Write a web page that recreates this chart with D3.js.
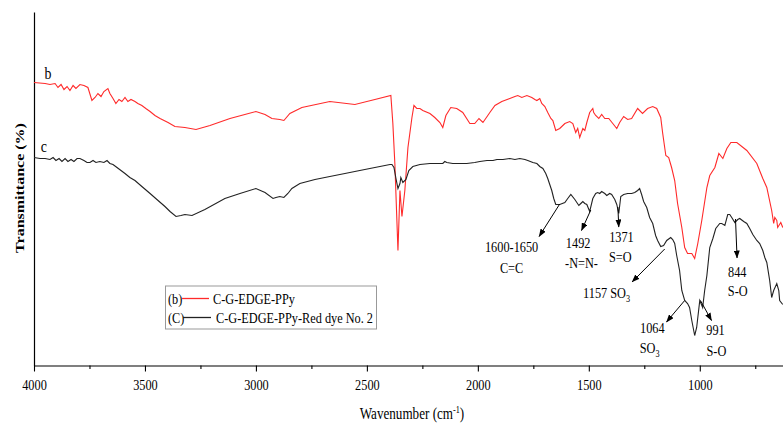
<!DOCTYPE html>
<html>
<head>
<meta charset="utf-8">
<script src="https://cdn.jsdelivr.net/npm/d3@7"></script>
<style>
  body { margin: 0; background: #fff; }
  #chart { width: 783px; height: 423px; }
  text { font-family: "Liberation Serif", "Times New Roman", serif; fill: #000; }
</style>
</head>
<body>
<div id="chart"></div>
<script>
// FTIR spectra, values
// [wavenumber (cm-1), transmittance (arbitrary %)]
const seriesB = [
  [4000,56.6],[3950,56.4],[3928,56.2],[3905,56.4],[3892,55.6],[3878,56.2],[3865,55.2],[3851,55.8],
  [3838,55.0],[3824,56.0],[3811,55.4],[3793,56.2],[3775,56.0],[3757,55.6],[3739,53.0],[3725,53.6],
  [3712,54.4],[3698,53.8],[3685,54.8],[3667,55.4],[3658,54.4],[3644,53.4],[3631,52.4],[3617,53.2],
  [3604,52.8],[3590,53.6],[3577,52.8],[3563,53.2],[3545,52.8],[3532,52.4],[3514,52.0],[3496,51.4],
  [3477,50.8],[3455,50.0],[3432,49.4],[3396,48.6],[3365,47.8],[3320,47.6],[3270,47.2],[3207,48.0],
  [3117,49.4],[3050,50.2],[3000,50.8],[2959,50.2],[2928,49.4],[2892,49.2],[2874,49.0],[2847,50.4],
  [2793,51.6],[2667,52.8],[2554,52.2],[2464,53.2],[2392,54.0],[2383,48.4],[2374,40.4],[2360,23.0],
  [2351,35.0],[2342,29.8],[2329,35.0],[2315,43.6],[2297,49.6],[2288,52.0],[2275,51.4],[2261,51.4],
  [2248,51.0],[2216,50.4],[2194,49.6],[2171,48.6],[2158,47.6],[2144,50.0],[2122,51.6],[2095,51.4],
  [2068,50.6],[2036,48.4],[2014,48.4],[1995,49.4],[1977,48.6],[1946,50.6],[1923,52.0],[1892,52.8],
  [1856,53.4],[1833,53.8],[1820,54.0],[1802,53.6],[1779,54.0],[1757,53.6],[1743,53.2],[1734,53.0],
  [1721,53.4],[1712,52.4],[1698,51.8],[1685,50.6],[1671,49.4],[1662,49.0],[1649,47.0],[1631,47.4],
  [1608,48.4],[1586,48.8],[1572,48.4],[1559,46.6],[1550,47.4],[1541,45.6],[1527,47.4],[1518,47.0],
  [1509,48.6],[1496,50.6],[1482,51.4],[1478,50.6],[1469,50.0],[1455,49.4],[1442,50.2],[1428,49.4],
  [1410,49.4],[1392,48.4],[1374,47.4],[1361,48.6],[1343,49.8],[1325,49.2],[1307,49.4],[1280,51.4],
  [1258,50.4],[1235,51.4],[1212,51.8],[1194,51.4],[1176,49.6],[1167,46.4],[1153,42.0],[1140,41.6],
  [1127,39.6],[1113,37.0],[1100,32.4],[1081,27.6],[1068,23.6],[1055,22.4],[1036,22.4],[1023,21.4],
  [1009,24.4],[991,29.0],[968,35.6],[955,38.0],[932,39.6],[914,42.4],[896,41.4],[878,43.4],
  [860,44.6],[833,44.6],[788,43.0],[743,40.4],[716,37.4],[698,35.6],[676,31.0],[667,28.4],
  [662,29.6],[653,29.0],[649,27.6],[635,28.6],[626,27.6]
];

const seriesC = [
  [4000,41.6],[3973,41.4],[3950,41.4],[3928,41.2],[3914,41.6],[3901,41.0],[3887,41.4],[3874,40.8],
  [3860,41.4],[3847,40.8],[3833,41.2],[3820,40.8],[3806,41.4],[3793,41.4],[3775,41.0],[3761,40.6],
  [3748,40.6],[3734,41.0],[3721,40.6],[3703,40.8],[3685,40.6],[3671,41.0],[3658,40.4],[3644,40.2],
  [3626,39.6],[3608,39.0],[3590,38.4],[3568,37.6],[3545,37.0],[3514,35.8],[3477,34.4],[3441,33.0],
  [3410,31.8],[3387,30.8],[3360,29.8],[3338,30.0],[3320,30.2],[3288,30.0],[3230,31.2],[3140,33.4],
  [3072,34.4],[3000,35.4],[2959,34.6],[2923,33.4],[2910,33.6],[2892,33.8],[2874,33.6],[2856,34.4],
  [2838,35.4],[2802,36.4],[2734,37.2],[2667,37.8],[2599,38.4],[2532,39.0],[2464,39.6],[2396,40.2],
  [2387,40.2],[2378,39.6],[2369,37.4],[2360,35.4],[2351,36.4],[2347,37.6],[2338,36.6],[2324,37.2],
  [2311,39.0],[2293,39.8],[2261,40.2],[2216,40.4],[2158,40.4],[2149,40.8],[2140,40.6],[2113,40.4],
  [2050,40.4],[2014,40.6],[1991,40.8],[1959,41.0],[1932,41.0],[1914,41.2],[1887,41.2],[1856,41.4],
  [1833,41.2],[1811,41.4],[1788,41.2],[1775,41.0],[1752,40.6],[1734,40.4],[1721,39.8],[1707,39.4],
  [1694,38.4],[1685,37.4],[1676,36.2],[1667,35.0],[1658,33.4],[1649,32.2],[1631,32.2],[1608,32.6],
  [1595,33.4],[1581,34.2],[1563,33.2],[1545,32.0],[1536,32.4],[1527,32.8],[1518,32.4],[1509,32.2],
  [1496,30.8],[1482,33.4],[1469,34.4],[1460,34.6],[1451,34.4],[1442,34.8],[1428,34.4],[1419,34.0],
  [1406,34.4],[1397,34.2],[1383,33.2],[1374,32.2],[1365,30.4],[1356,33.8],[1343,34.2],[1325,34.4],
  [1307,34.4],[1293,34.6],[1280,35.0],[1271,35.4],[1262,34.2],[1253,32.8],[1239,31.6],[1226,29.6],
  [1212,28.4],[1199,26.0],[1190,25.0],[1176,23.8],[1163,24.0],[1149,25.0],[1131,25.6],[1122,25.2],
  [1113,24.4],[1104,22.0],[1091,19.0],[1081,15.0],[1068,13.0],[1055,12.4],[1046,11.6],[1036,9.0],
  [1023,6.0],[1014,7.6],[1000,13.0],[987,11.6],[978,15.0],[968,18.0],[955,23.6],[941,25.4],
  [928,27.4],[910,28.4],[901,28.4],[887,28.0],[874,30.2],[865,30.2],[856,29.6],[842,28.6],
  [829,29.2],[820,29.4],[802,28.8],[788,28.4],[775,27.4],[761,26.2],[743,25.0],[730,24.4],
  [716,23.0],[707,21.6],[698,20.6],[685,17.0],[676,13.6],[667,15.0],[653,16.4],[644,15.0],
  [640,13.0],[626,12.2]
];

const xTicks = [4000, 3500, 3000, 2500, 2000, 1500, 1000];
const xMinorTicks = [3750, 3250, 2750, 2250, 1750, 1250, 750];

const legendItems = [
  {tag: "(b)", name: "C-G-EDGE-PPy", color: "#ff2a2a"},
  {tag: "(C)", name: "C-G-EDGE-PPy-Red dye No. 2", color: "#222"}
];

// peak annotations: arrow from curve point to label, label lines (text, sub, anchor point)
const annotations = [
  {from: [1631, 32.3], to: [1724, 25.8], lines: [["1600-1650", "", 1848, 22.7], ["C=C", "", 1848, 18.5]]},
  {from: [1491, 31.1], to: [1533, 27.0], lines: [["1492", "", 1548, 23.5], ["-N=N-", "", 1533, 19.5]]},
  {from: [1369, 31.7], to: [1365, 27.7], lines: [["1371", "", 1353, 24.7], ["S=O", "", 1358, 20.7]]},
  {from: [1158, 23.3], to: [1305, 16.7], lines: [["1157 SO", "3", 1420, 13.5]]},
  {from: [1068, 13.0], to: [1150, 8.7], lines: [["1064", "", 1214, 6.5], ["SO", "3", 1226, 2.5]]},
  {from: [997, 13.0], to: [947, 9.0], lines: [["991", "", 929, 6.2], ["S-O", "", 925, 2.0]]},
  {from: [839, 29.3], to: [832, 21.5], lines: [["844", "", 831, 17.8], ["S-O", "", 829, 14.0]]}
];

// canvas
const width = 783, height = 423;
const margin = {top: 12, left: 34, bottom: 57.5};
const plotBottom = height - margin.bottom;

const svg = d3.select("#chart")
    .append("svg")
    .attr("width", width)
    .attr("height", height);

const x = d3.scaleLinear().domain([4000, 625]).range([margin.left, width]);
const y = d3.scaleLinear().domain([0, 70.7]).range([plotBottom, margin.top]);

const sx = 0.82; // the reference text is a bit narrow

function label(g, px, py, str, size, anchor) {
    return g.append("text")
        .attr("transform", `translate(${px},${py}) scale(${sx},1)`)
        .attr("text-anchor", anchor || "middle")
        .style("font-size", size + "px")
        .text(str);
}

// arrow head
svg.append("defs").append("marker")
    .attr("id", "arrow")
    .attr("markerUnits", "userSpaceOnUse")
    .attr("markerWidth", 8).attr("markerHeight", 6)
    .attr("refX", 7.5).attr("refY", 3)
    .attr("orient", "auto")
    .append("path")
    .attr("d", "M0,0 L8,3 L0,6 Z")
    .attr("fill", "#000");

// x axis, major and minor ticks
const xAxis = svg.append("g")
    .attr("class", "xAxis")
    .attr("transform", `translate(0,${plotBottom})`)
    .call(d3.axisBottom(x).tickValues(xTicks).tickSize(6).tickSizeOuter(0).tickFormat(d3.format("d")));

xAxis.select(".domain").attr("stroke", "#000").attr("stroke-width", 1.2);
xAxis.selectAll(".tick line").attr("stroke", "#000").attr("stroke-width", 1.1);
xAxis.selectAll(".tick text")
    .attr("y", 24.5).attr("dy", null)
    .attr("transform", `scale(${sx},1)`)
    .style("font-size", "15px");

svg.append("g")
    .attr("transform", `translate(0,${plotBottom})`)
    .call(d3.axisBottom(x).tickValues(xMinorTicks).tickSize(3.5).tickSizeOuter(0).tickFormat(""))
    .call(g => g.select(".domain").remove())
    .selectAll(".tick line").attr("stroke", "#000").attr("stroke-width", 1.1);

// y axis, no ticks
const yAxis = svg.append("g")
    .attr("class", "yAxis")
    .attr("transform", `translate(${margin.left},0)`)
    .call(d3.axisLeft(y).tickValues([]).tickSizeOuter(0));
yAxis.select(".domain").attr("stroke", "#000").attr("stroke-width", 1.2);

// axis titles
const xTitle = svg.append("text")
    .attr("transform", `translate(412,419) scale(${sx},1)`)
    .attr("text-anchor", "middle")
    .style("font-size", "16px");
xTitle.append("tspan").text("Wavenumber (cm");
xTitle.append("tspan").attr("dy", -6).style("font-size", "10px").text("-1");
xTitle.append("tspan").attr("dy", 6).text(")");

svg.append("text")
    .attr("transform", `translate(24,188) rotate(-90) scale(1,${sx})`)
    .attr("text-anchor", "middle")
    .style("font-size", "16px")
    .style("font-weight", "bold")
    .text("Transmittance (%)");

// spectra
const line = d3.line().x(d => x(d[0])).y(d => y(d[1]));
const plot = svg.append("g").attr("id", "plot");

plot.append("path").datum(seriesB)
    .attr("d", line).attr("fill", "none")
    .attr("stroke", legendItems[0].color).attr("stroke-width", 1.1);

plot.append("path").datum(seriesC)
    .attr("d", line).attr("fill", "none")
    .attr("stroke", legendItems[1].color).attr("stroke-width", 1.1);

label(plot, x(3937), y(57.3), "b", 17);
label(plot, x(3956), y(42.7), "c", 17);

// annotations
const ann = svg.append("g").attr("class", "annotations");
annotations.forEach(a => {
    ann.append("line")
        .attr("x1", x(a.from[0])).attr("y1", y(a.from[1]))
        .attr("x2", x(a.to[0])).attr("y2", y(a.to[1]))
        .attr("stroke", "#000").attr("stroke-width", 1)
        .attr("marker-end", "url(#arrow)");
    a.lines.forEach(l => {
        const t = label(ann, x(l[2]), y(l[3]), l[0], 15);
        if (l[1]) {
            t.append("tspan").attr("dy", 4).style("font-size", "10px").text(l[1]);
        }
    });
});

// legend
const legend = svg.append("g").attr("class", "legend");
legend.append("rect")
    .attr("x", 165.5).attr("y", 286)
    .attr("width", 211).attr("height", 43)
    .attr("fill", "#fff").attr("stroke", "#999").attr("stroke-width", 1);

legendItems.forEach((d, i) => {
    const ly = 298.5 + i * 19;
    label(legend, 168, ly + 5, d.tag, 15, "start");
    legend.append("line")
        .attr("x1", 182 + i).attr("x2", 209 + i * 2)
        .attr("y1", ly).attr("y2", ly)
        .attr("stroke", d.color).attr("stroke-width", 1.3);
    label(legend, 213 + i * 3, ly + 5, d.name, 15, "start");
});
</script>
</body>
</html>
